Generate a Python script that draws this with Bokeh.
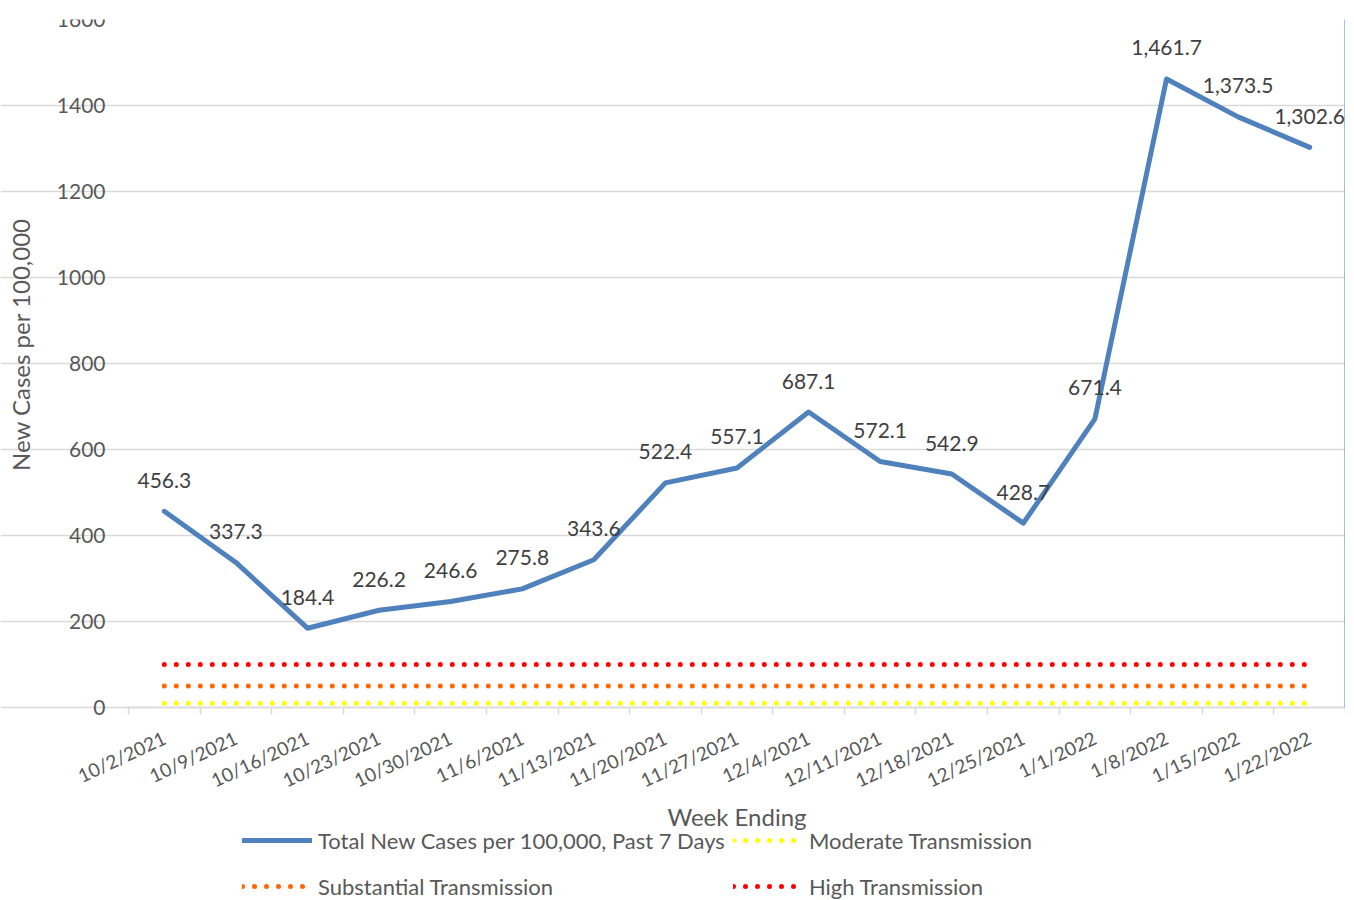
from bokeh.plotting import figure
from bokeh.models import (ColumnDataSource, FixedTicker, LinearAxis, Legend, LegendItem,
                          Range1d, LabelSet, Label)
from bokeh.embed import file_html
from bokeh.resources import INLINE
from bokeh.core.properties import value
import math

weeks = ["10/2/2021", "10/9/2021", "10/16/2021", "10/23/2021", "10/30/2021", "11/6/2021",
         "11/13/2021", "11/20/2021", "11/27/2021", "12/4/2021", "12/11/2021", "12/18/2021",
         "12/25/2021", "1/1/2022", "1/8/2022", "1/15/2022", "1/22/2022"]
cases = [456.3, 337.3, 184.4, 226.2, 246.6, 275.8, 343.6, 522.4, 557.1, 687.1, 572.1, 542.9,
         428.7, 671.4, 1461.7, 1373.5, 1302.6]
moderate = [10] * 17
substantial = [50] * 17
high = [100] * 17
y_ticks = [0, 200, 400, 600, 800, 1000, 1200, 1400, 1600]

FONT = "Lato"
N = len(weeks)
xs = [i + 0.5 for i in range(N)]
src = ColumnDataSource(dict(x=xs, cases=cases, moderate=moderate, substantial=substantial,
                            high=high, lbl=[f"{v:,.1f}" for v in cases]))

# layout geometry (pixels): chart area spans x 128..1345, y 19..707; the frame is
# stretched to the page edges so the axes (pinned at x=0 / y=0) are never clipped
PLOT_L, PLOT_R, PLOT_T, PLOT_B, PAGE_B = 128, 1345, 19, 707, 900
PX_X = (PLOT_R - PLOT_L) / N
PX_Y = (PLOT_B - PLOT_T) / 1600
X_MIN = -PLOT_L / PX_X
Y_MIN = -(PAGE_B - PLOT_B) / PX_Y


def sx(px):
    return (px - PLOT_L) / PX_X


def sy(py):
    return (PLOT_B - py) / PX_Y


p = figure(frame_width=PLOT_R, frame_height=PAGE_B - PLOT_T, min_border_left=0,
           min_border_top=PLOT_T, min_border_bottom=0, min_border_right=0,
           x_range=Range1d(X_MIN, N), y_range=Range1d(Y_MIN, 1600),
           output_backend="svg", toolbar_location=None)
p.outline_line_color = None
p.background_fill_color = "white"
p.border_fill_color = "white"

# grid
p.xgrid.grid_line_color = None
p.ygrid.grid_line_color = "#d9d9d9"
p.ygrid.grid_line_width = 1.5
p.ygrid.bounds = (0, N)
p.yaxis.ticker = FixedTicker(ticks=y_ticks)
p.ygrid.ticker = FixedTicker(ticks=y_ticks)

# y axis, pinned at x = 0
ya = p.yaxis[0]
ya.fixed_location = 0
ya.bounds = (0, 1600)
ya.axis_line_color = None
ya.major_tick_line_color = None
ya.minor_tick_line_color = None
ya.major_label_text_font = FONT
ya.major_label_text_font_size = "21px"
ya.major_label_text_color = "#595959"
ya.major_label_standoff = 17

# x axis, pinned at y = 0
xa = p.xaxis[0]
xa.fixed_location = 0
xa.bounds = (0, N)
xa.ticker = FixedTicker(ticks=xs, minor_ticks=list(range(N + 1)))
xa.major_label_overrides = {x: w for x, w in zip(xs, weeks)}
xa.major_tick_line_color = None
xa.minor_tick_line_color = "#d9d9d9"
xa.minor_tick_line_width = 1.5
xa.minor_tick_out = 7
xa.minor_tick_in = 0
xa.axis_line_color = "#d9d9d9"
xa.axis_line_width = 1.5
xa.major_label_orientation = math.radians(25)
xa.major_label_text_font = FONT
xa.major_label_text_font_size = "19px"
xa.major_label_text_color = "#595959"
xa.major_label_standoff = 22

# axis titles
p.add_layout(Label(x=sx(20), y=sy(344), text="New Cases per 100,000", angle=math.pi / 2,
                   text_align="center", text_baseline="middle", text_font=FONT,
                   text_font_size="24px", text_color="#595959"))
p.add_layout(Label(x=N / 2, y=sy(816), text="Week Ending", text_align="center",
                   text_baseline="middle", text_font=FONT, text_font_size="24px",
                   text_color="#595959"))

# right border axis
ra = LinearAxis(ticker=FixedTicker(ticks=[]), axis_line_color="#4f81bd", axis_line_width=2,
                major_tick_line_color=None, minor_tick_line_color=None,
                major_label_text_color=None, bounds=(0, 1600))
p.add_layout(ra, "right")

dot = dict(line_width=5, line_dash="0 12", line_cap="round")
r_mod = p.line("x", "moderate", source=src, line_color="#ffff00", **dot)
r_sub = p.line("x", "substantial", source=src, line_color="#ff6600", **dot)
r_high = p.line("x", "high", source=src, line_color="#ff0000", **dot)
r_cases = p.line("x", "cases", source=src, line_color="#4f81bd", line_width=5,
                 line_join="round", line_cap="round")

labels = LabelSet(x="x", y="cases", text="lbl", source=src, text_align="center",
                  text_baseline="middle", y_offset=31, text_font=value(FONT),
                  text_font_size="21px", text_color="#404040")
p.add_layout(labels)

legend = Legend(items=[
    LegendItem(label="Total New Cases per 100,000, Past 7 Days", renderers=[r_cases]),
    LegendItem(label="Moderate Transmission", renderers=[r_mod]),
    LegendItem(label="Substantial Transmission", renderers=[r_sub]),
    LegendItem(label="High Transmission", renderers=[r_high]),
], ncols=2, orientation="horizontal", location=(242, -5),
    glyph_width=70, glyph_height=38, label_standoff=6, spacing=8, padding=0, margin=0,
    label_text_font=FONT, label_text_font_size="22px", label_text_color="#595959",
    border_line_color=None, background_fill_alpha=0)
p.add_layout(legend, "center")

open("out.html", "w").write(file_html(p, INLINE))
